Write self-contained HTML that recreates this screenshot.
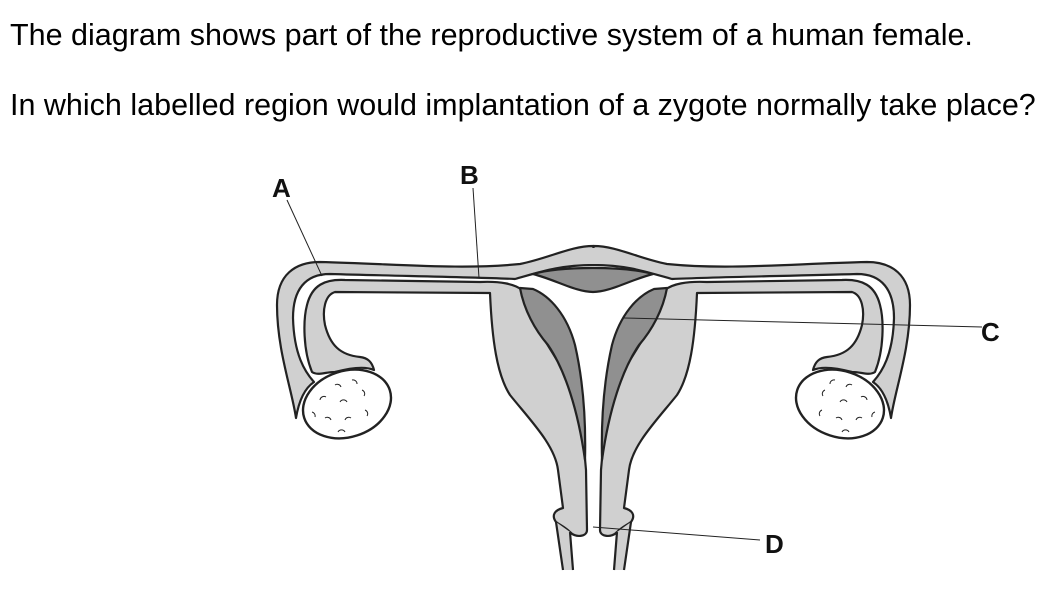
<!DOCTYPE html>
<html><head><meta charset="utf-8"><style>
html,body{margin:0;padding:0;background:#fff;}
body{width:1047px;height:590px;position:relative;overflow:hidden;font-family:"Liberation Sans",Arial,sans-serif;}
.t{position:absolute;left:10px;font-size:30.5px;color:#000;white-space:nowrap;}
</style></head><body>
<div class="t" style="top:18px">The diagram shows part of the reproductive system of a human female.</div>
<div class="t" style="top:88px">In which labelled region would implantation of a zygote normally take place?</div>
<svg width="1047" height="590" style="position:absolute;left:0;top:0" xmlns="http://www.w3.org/2000/svg">
<defs>
<g id="half" stroke="#222" stroke-width="2.2" stroke-linejoin="round">
 <path fill="#d0d0d0" d="M296,418 C292,390 277,350 277,305 C277,275 295,262 320,262 C400,264 460,270 520,264 C550,258 570,246 593.5,246 L593.5,265 C560,265 540,272 515,279 C470,277 400,276 330,274 C305,274 293,290 293,318 C294,355 305,372 314,382 C305,388 299,400 296,418 Z"/>
 <path fill="#d0d0d0" d="M312,372 C303,350 303,320 307,305 C312,285 325,279 345,280 L480,282 C500,281 515,284 522,290 C530,320 545,340 560,365 C575,395 583,430 586,470 L587,530 C587,537 575,538 570,532 C565,527 560,525 556,522 C551,515 555,510 563,508 L558,470 C555,445 530,420 510,395 C497,375 492,340 490,293 L335,292 C325,295 322,310 325,325 C330,345 340,355 360,357 C368,358 372,362 374,370 C365,366 350,368 335,372 C325,372 318,376 312,372 Z"/>
 <path fill="#909090" d="M520,288 C524,310 535,330 548,345 C565,370 578,410 585,460 C586,420 583,380 575,345 C567,315 550,296 533,289 Z"/>
 <path fill="#d0d0d0" d="M556,522 L563,570 L573,570 L570,532 Z" stroke="none"/>
 <path fill="none" d="M556,522 L563,570 M570,532 L573,570"/>
 <ellipse cx="347" cy="404" rx="45" ry="33" transform="rotate(-18 347 404)" fill="#fff" stroke-width="2.4"/>
 <g fill="none" stroke-width="1">
  <path d="M320,400 a4,4 0 0 1 6,-3 M335,385 a4,4 0 0 1 6,2 M352,380 a4,4 0 0 1 5,4 M362,390 a4,4 0 0 1 2,6 M340,402 a4,4 0 0 1 7,0 M325,418 a4,4 0 0 1 6,2 M345,420 a4,4 0 0 1 6,-2 M365,410 a4,4 0 0 1 2,6 M338,432 a4,4 0 0 1 7,0 M312,412 a4,4 0 0 1 3,5"/>
 </g>
</g>
</defs>
<use href="#half"/>
<use href="#half" transform="translate(1187,0) scale(-1,1)"/>
<rect x="590" y="248" width="7" height="16" fill="#d0d0d0"/>
<path d="M533,274 C560,266 625,266 653,274 C630,280 610,292 593,292 C576,292 556,280 533,274 Z" fill="#909090" stroke="#222" stroke-width="2.2"/>
<g stroke="#222" stroke-width="1" fill="none">
 <line x1="287" y1="200" x2="322" y2="276"/>
 <line x1="473" y1="188" x2="479" y2="278"/>
 <line x1="982" y1="327" x2="624" y2="318"/>
 <line x1="760" y1="540" x2="593" y2="527"/>
</g>
<g font-family="Liberation Sans, Arial, sans-serif" font-size="26" font-weight="bold" fill="#111">
 <text x="272" y="197">A</text>
 <text x="460" y="184">B</text>
 <text x="981" y="341">C</text>
 <text x="765" y="553">D</text>
</g>
</svg>
</body></html>
